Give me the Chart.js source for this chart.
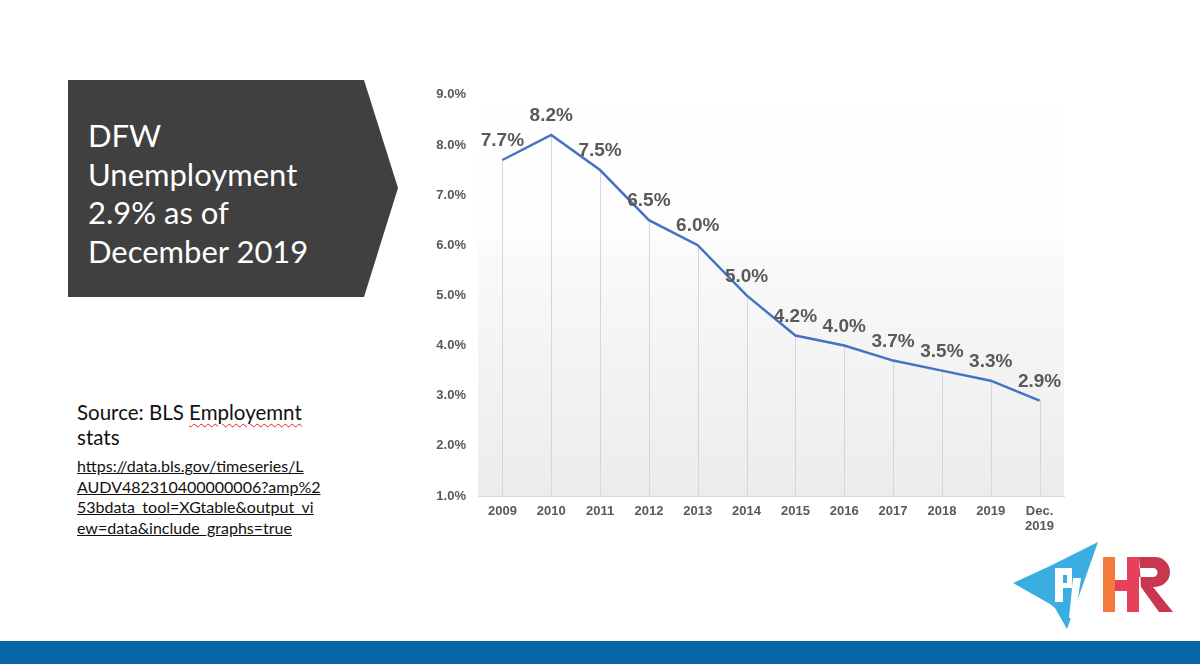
<!DOCTYPE html>
<html>
<head>
<meta charset="utf-8">
<script src="https://cdn.jsdelivr.net/npm/chart.js@4.4.1/dist/chart.umd.min.js"></script>
<style>
  body { margin: 0; width: 1200px; height: 664px; background: #fff; position: relative; overflow: hidden; font-family: "Liberation Sans", Arial, sans-serif; }
  .arrow-box { position: absolute; left: 68px; top: 80px; width: 330px; height: 217px; background: #404040;
    clip-path: polygon(0 0, 296px 0, 330px 108px, 296px 217px, 0 217px); }
  .arrow-box div { position: absolute; left: 20px; top: 36px; color: #fff; font-family: Lato, "Open Sans", sans-serif; font-size: 31px; line-height: 38.5px; }
  .source { position: absolute; left: 77px; top: 400px; font-family: Lato, "Open Sans", sans-serif; font-size: 20.5px; line-height: 25px; color: #111; }
  .squiggle { text-decoration: underline wavy #e02020; text-decoration-thickness: 1px; text-underline-offset: 3px; }
  .link { position: absolute; left: 77px; top: 456px; font-family: Lato, "Open Sans", sans-serif; font-size: 16px; line-height: 20.5px; color: #111; text-decoration: underline; }
  .chart-wrap { position: absolute; left: 420px; top: 75px; width: 652px; height: 465px; }
  .bottom-bar { position: absolute; left: 0; top: 641px; width: 1200px; height: 23px; background: #0866a8; }
  .logo { position: absolute; left: 1005px; top: 538px; }
</style>
</head>
<body>

<div class="arrow-box"><div>DFW<br>Unemployment<br>2.9% as of<br>December 2019</div></div>

<div class="source">Source: BLS <span class="squiggle">Employemnt</span><br>stats</div>
<div class="link">https://data.bls.gov/timeseries/L<br>AUDV482310400000006?amp%2<br>53bdata_tool=XGtable&amp;output_vi<br>ew=data&amp;include_graphs=true</div>

<div class="chart-wrap"><canvas id="myChart"></canvas></div>

<svg class="logo" width="180" height="95" viewBox="0 0 180 95">
  <polygon points="8,45 45,28 45,66" fill="#3aaee0"/>
  <polygon points="45,28 93,4 75,55 62,91 50,70 45,66" fill="#3aaee0"/>
  <rect x="50" y="30" width="8" height="34" fill="#fff"/>
  <rect x="58" y="30" width="9" height="7" fill="#fff"/>
  <rect x="62" y="37" width="5" height="10" fill="#fff"/>
  <rect x="58" y="45" width="9" height="5" fill="#fff"/>
  <polygon points="68,40 76,40 70,80 64,80" fill="#fff"/>
  <rect x="98" y="19" width="12" height="55" fill="#f47b3c"/>
  <rect x="110" y="42" width="14" height="11" fill="#e8405a"/>
  <rect x="122" y="19" width="12" height="55" fill="#e8405a"/>
  <path d="M134,19 h16 a13,13 0 0 1 0,30 h-2 l20,25 h-14 l-18,-25 z M134,30 v9 h14 a4.5,4.5 0 0 0 0,-9 z" fill="#c8374d" fill-rule="evenodd"/>
</svg>

<div class="bottom-bar"></div>

<script>
// chart data
const years = ["2009", "2010", "2011", "2012", "2013", "2014", "2015", "2016", "2017", "2018", "2019", ["Dec.", "2019"]];

const rates = [7.7, 8.2, 7.5, 6.5, 6.0, 5.0, 4.2, 4.0, 3.7, 3.5, 3.3, 2.9];

const yMin = 1;
const yMax = 9;

const axisGray = "#595959";

// gray fade behind the plot
const plotBackground = {
  id: "plotBackground",
  beforeDraw(chart) {
    const { ctx, chartArea } = chart;
    const grad = ctx.createLinearGradient(0, chartArea.top, 0, chartArea.bottom);
    grad.addColorStop(0, "#ffffff");
    grad.addColorStop(0.35, "#fdfdfd");
    grad.addColorStop(0.42, "#f9f9f9");
    grad.addColorStop(1, "#ececec");
    ctx.save();
    ctx.fillStyle = grad;
    ctx.fillRect(chartArea.left, chartArea.top, chartArea.right - chartArea.left, chartArea.bottom - chartArea.top);
    ctx.restore();
  }
};

// vertical lines from each point down to the axis
const dropLines = {
  id: "dropLines",
  beforeDatasetsDraw(chart) {
    const { ctx, chartArea } = chart;
    const meta = chart.getDatasetMeta(0);
    ctx.save();
    ctx.strokeStyle = "#d6d6d6";
    ctx.lineWidth = 1;
    meta.data.forEach(function (pt) {
      const x = Math.round(pt.x) + 0.5;
      ctx.beginPath();
      ctx.moveTo(x, pt.y);
      ctx.lineTo(x, chartArea.bottom);
      ctx.stroke();
    });
    ctx.restore();
  }
};

// value labels over the line
const valueLabels = {
  id: "valueLabels",
  afterDatasetsDraw(chart) {
    const { ctx } = chart;
    const meta = chart.getDatasetMeta(0);
    ctx.save();
    ctx.font = "bold 19px 'Liberation Sans', Arial, sans-serif";
    ctx.fillStyle = axisGray;
    ctx.textAlign = "center";
    ctx.textBaseline = "middle";
    meta.data.forEach(function (pt, i) {
      ctx.fillText(rates[i].toFixed(1) + "%", pt.x, pt.y - 19);
    });
    ctx.restore();
  }
};

new Chart("myChart", {
  type: "line",
  data: {
    labels: years,
    datasets: [
      {
        data: rates,
        borderColor: "#4472c4",
        borderWidth: 2.5,
        pointRadius: 0,
        tension: 0,
        fill: false
      }
    ]
  },
  options: {
    responsive: true,
    maintainAspectRatio: false,
    animation: false,
    layout: { padding: { top: 8, right: 8, left: 0, bottom: 0 } },
    plugins: {
      legend: { display: false },
      tooltip: { enabled: false }
    },
    scales: {
      x: {
        offset: true,
        grid: { display: false, drawTicks: false },
        border: { display: true, color: "#d9d9d9", width: 1 },
        ticks: {
          color: axisGray,
          font: { family: "'Liberation Sans', Arial, sans-serif", size: 13, weight: "bold", lineHeight: 1.15 },
          padding: 8,
          maxRotation: 0,
          autoSkip: false
        },
        afterFit(scale) { scale.height = 44; }
      },
      y: {
        min: yMin,
        max: yMax,
        grid: { display: false, drawTicks: false },
        border: { display: false },
        ticks: {
          stepSize: 1,
          color: axisGray,
          font: { family: "'Liberation Sans', Arial, sans-serif", size: 13, weight: "bold" },
          padding: 12,
          callback: function (v) { return v.toFixed(1) + "%"; }
        },
        afterFit(scale) { scale.width = 58; }
      }
    }
  },
  plugins: [plotBackground, dropLines, valueLabels]
});
</script>
</body>
</html>
